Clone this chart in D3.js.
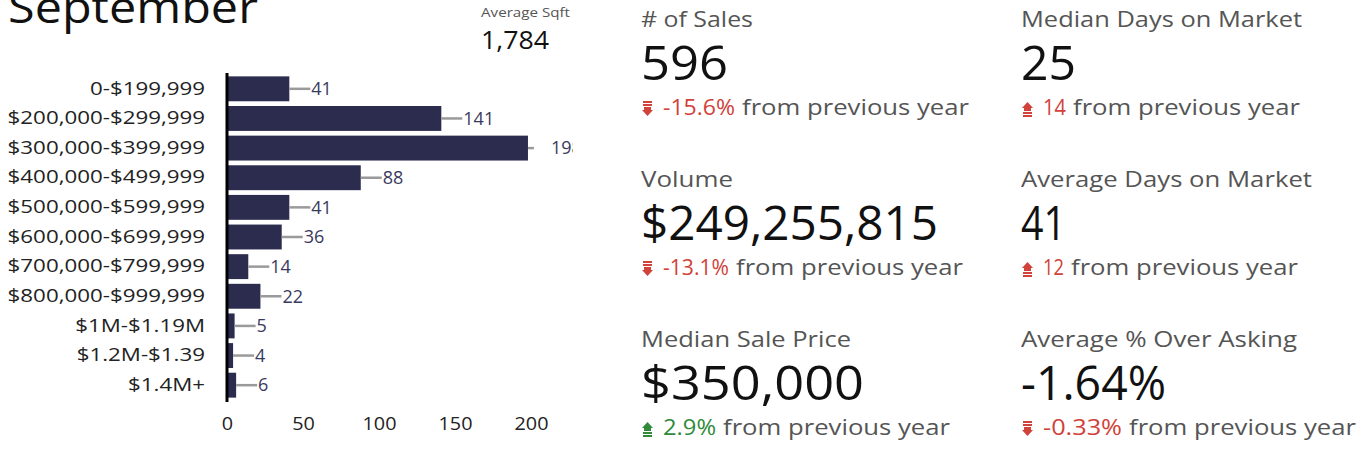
<!DOCTYPE html>
<html><head><meta charset="utf-8">
<script src="https://cdn.jsdelivr.net/npm/d3@7"></script>
<style>
html,body{margin:0;padding:0;background:#fff;overflow:hidden}
svg{display:block;font-family:"Open Sans","Noto Sans",sans-serif}
</style></head>
<body><svg id="c" width="1357" height="453"></svg>
<script>
// ---- data ----
const categories = ["0-$199,999","$200,000-$299,999","$300,000-$399,999","$400,000-$499,999","$500,000-$599,999","$600,000-$699,999","$700,000-$799,999","$800,000-$999,999","$1M-$1.19M","$1.2M-$1.39","$1.4M+"];
const counts = [41,141,198,88,41,36,14,22,5,4,6];
const xTicks = [0,50,100,150,200];
const title = "September";
const sqftLabel = "Average Sqft";
const sqftValue = "1,784";
const kpiLabels = ["# of Sales","Median Days on Market","Volume","Average Days on Market","Median Sale Price","Average % Over Asking"];
const kpiValues = ["596","25","$249,255,815","41","$350,000","-1.64%"];
const kpiChanges = ["-15.6%","14","-13.1%","12","2.9%","-0.33%"];
const kpiDirections = ["down","up","down","up","up","down"];
const kpiSentiment = ["bad","bad","bad","bad","good","bad"];
const changeSuffix = "from previous year";

const svg = d3.select("#c");
function fit(t, w){ t.attr("textLength", w).attr("lengthAdjust","spacingAndGlyphs"); return t; }
function stretch(sel, k){ sel.each(function(){ const w=this.getComputedTextLength(); d3.select(this).attr("textLength", w*k).attr("lengthAdjust","spacingAndGlyphs"); }); }

// title
fit(svg.append("text").attr("x",8).attr("y",23).attr("font-size",44).attr("fill","#111").text(title), 250);
fit(svg.append("text").attr("x",481).attr("y",17).attr("font-size",13).attr("fill","#555").text(sqftLabel), 89);
fit(svg.append("text").attr("x",481).attr("y",49).attr("font-size",26).attr("fill","#111").text(sqftValue), 68);

// bar chart
const x = d3.scaleLinear().domain([0,200]).range([227,531]);
const y = d3.scaleBand().domain(categories).range([74,400]).paddingInner(0.16).paddingOuter(0.08);
svg.append("defs").append("clipPath").attr("id","clip").append("rect").attr("x",0).attr("y",60).attr("width",573).attr("height",360);
const g = svg.append("g").attr("clip-path","url(#clip)");
const rows = categories.map((c,i)=>({c, v:counts[i]}));
const vmax = d3.max(counts);
g.selectAll("rect.bar").data(rows).join("rect").attr("class","bar")
  .attr("x",x(0)).attr("y",d=>y(d.c)).attr("width",d=>x(d.v)-x(0)).attr("height",y.bandwidth()).attr("fill","#2b2c4e");
g.selectAll("line.lead").data(rows).join("line").attr("class","lead")
  .attr("x1",d=>x(d.v)).attr("x2",d=>x(d.v) + (d.v===vmax?6:21))
  .attr("y1",d=>y(d.c)+y.bandwidth()/2).attr("y2",d=>y(d.c)+y.bandwidth()/2)
  .attr("stroke","#9a9a9a").attr("stroke-width",2.5);
g.selectAll("text.val").data(rows).join("text").attr("class","val")
  .attr("x",d=>x(d.v)+ (d.v===vmax?23:22)).attr("y",d=>y(d.c)+y.bandwidth()/2)
  .attr("dy","0.35em").attr("font-size",18).attr("fill","#3a3a5e").text(d=>d.v);
// category labels
const yAxis = svg.append("g").attr("transform","translate(227,0)").call(d3.axisLeft(y).tickSize(0).tickPadding(22));
yAxis.select(".domain").remove();
yAxis.selectAll("text").attr("font-size",18).attr("fill","#222").attr("font-family","Open Sans, sans-serif");
stretch(yAxis.selectAll("text"), 1.24);
svg.append("line").attr("x1",227).attr("x2",227).attr("y1",73).attr("y2",402).attr("stroke","#000").attr("stroke-width",3);
const xAxis = svg.append("g").attr("transform","translate(0,402)").call(d3.axisBottom(x).tickValues(xTicks).tickSize(0).tickPadding(15));
xAxis.select(".domain").remove();
xAxis.selectAll("text").attr("font-size",18).attr("fill","#222").attr("font-family","Open Sans, sans-serif");
stretch(xAxis.selectAll("text"), 1.1);

// KPIs
const colX = [641,1021];
const rowY = [0,160,320];
const colorFor = s => s==="good" ? "#2f8a3a" : "#d0423a";
function arrow(gr, x0, yc, dir, col){
  const w=9;
  const p = gr.append("g").attr("fill",col);
  if(dir==="down"){
    p.append("rect").attr("x",x0).attr("y",yc-8).attr("width",w).attr("height",2);
    p.append("rect").attr("x",x0).attr("y",yc-5).attr("width",w).attr("height",2);
    p.append("rect").attr("x",x0+1).attr("y",yc-2).attr("width",w-2).attr("height",3);
    p.append("path").attr("d",`M${x0-1},${yc+1}L${x0+w+1},${yc+1}L${x0+w/2},${yc+7}Z`);
  } else {
    p.append("path").attr("d",`M${x0-1},${yc-1}L${x0+w+1},${yc-1}L${x0+w/2},${yc-7}Z`);
    p.append("rect").attr("x",x0+1).attr("y",yc-1).attr("width",w-2).attr("height",3);
    p.append("rect").attr("x",x0).attr("y",yc+3).attr("width",w).attr("height",2);
    p.append("rect").attr("x",x0).attr("y",yc+6).attr("width",w).attr("height",2);
  }
}
const labelW = [112,281,92,291,210,276];
const valueW = [87,55,297,45,223,145];
const changeW = [72,23,66,21,53,79];
kpiLabels.forEach((lab,i)=>{
  const cx = colX[i%2], oy = rowY[Math.floor(i/2)];
  const kg = svg.append("g");
  fit(kg.append("text").attr("x",cx).attr("y",oy+27).attr("font-size",22).attr("fill","#555").text(lab), labelW[i]);
  fit(kg.append("text").attr("x",cx).attr("y",oy+80).attr("font-size",48).attr("fill","#111").text(kpiValues[i]), valueW[i]);
  const col = colorFor(kpiSentiment[i]);
  arrow(kg, cx+2, oy+109, kpiDirections[i], col);
  fit(kg.append("text").attr("x",cx+22).attr("y",oy+115).attr("font-size",22).attr("fill",col).text(kpiChanges[i]), changeW[i]);
  fit(kg.append("text").attr("x",cx+22+changeW[i]+7).attr("y",oy+115).attr("font-size",22).attr("fill","#555").text(changeSuffix), 227);
});
</script></body></html>
